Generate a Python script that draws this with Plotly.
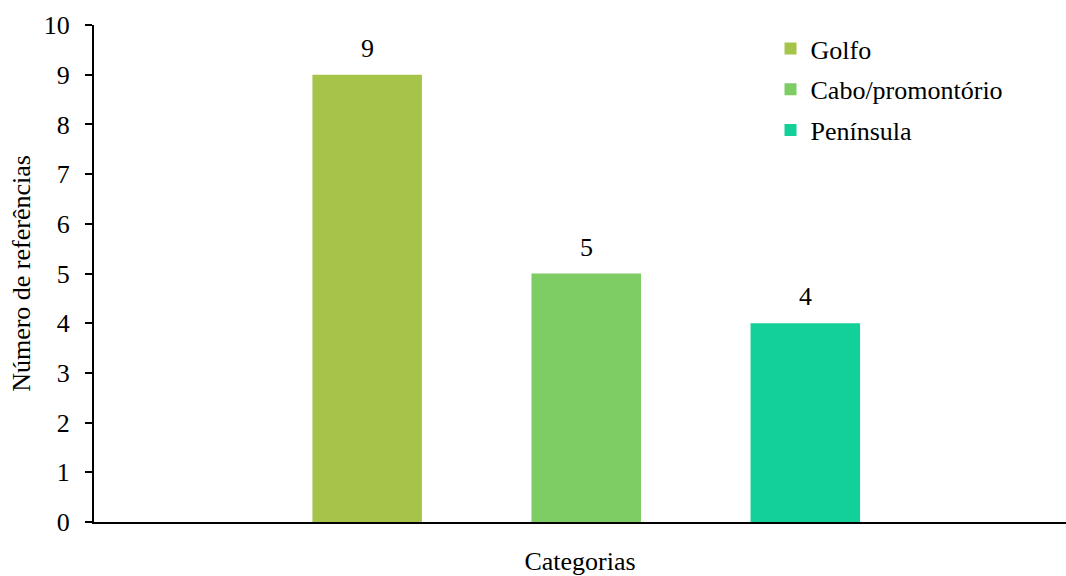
import plotly.graph_objects as go

# data
categories = ["Golfo", "Cabo/promontório", "Península"]
values = [9, 5, 4]
colors = ["#A6C44A", "#7DCC64", "#13CF98"]

FONT = "Liberation Serif"
SIZE = 26

fig = go.Figure()

for i, (cat, val) in enumerate(zip(categories, values)):
    fig.add_trace(go.Bar(
        x=[cat],
        y=[val],
        name=cat,
        legendgroup=cat,
        marker=dict(color=colors[i], line=dict(width=0)),
        width=0.5,
    ))
    # value label above each bar
    fig.add_annotation(
        x=cat, y=val, text=str(val),
        showarrow=False, yanchor="bottom", yshift=10,
        font=dict(family=FONT, size=SIZE, color="black"),
    )

fig.update_layout(
    width=1066,
    height=576,
    paper_bgcolor="white",
    plot_bgcolor="white",
    font=dict(family=FONT, size=SIZE, color="black"),
    margin=dict(l=94, r=0, t=25, b=54),
    showlegend=True,
    legend=dict(
        x=0.696, y=1.0, xanchor="left", yanchor="top",
        traceorder="grouped", tracegroupgap=4,
        font=dict(family=FONT, size=SIZE, color="black"),
        bgcolor="rgba(0,0,0,0)",
    ),
    xaxis=dict(
        range=[-1.247, 3.19],
        showticklabels=False,
        ticks="",
        showgrid=False,
        zeroline=False,
        showline=True,
        linecolor="black",
        linewidth=2,
        title=dict(text="Categorias", standoff=33,
                   font=dict(family=FONT, size=SIZE)),
    ),
    yaxis=dict(
        range=[0, 10],
        dtick=1,
        ticks="outside",
        ticklen=7,
        tickwidth=2,
        tickcolor="black",
        ticklabelstandoff=10,
        showgrid=False,
        zeroline=False,
        showline=True,
        linecolor="black",
        linewidth=2,
        tickfont=dict(family=FONT, size=SIZE),
        title=dict(text="Número de referências", standoff=6,
                   font=dict(family=FONT, size=SIZE)),
    ),
)

# drop the default page margin so the figure sits at the window's corner
fig.write_html(
    "out.html",
    config={"displayModeBar": False},
    post_script="document.body.style.margin='0';document.body.style.overflow='hidden';",
)
